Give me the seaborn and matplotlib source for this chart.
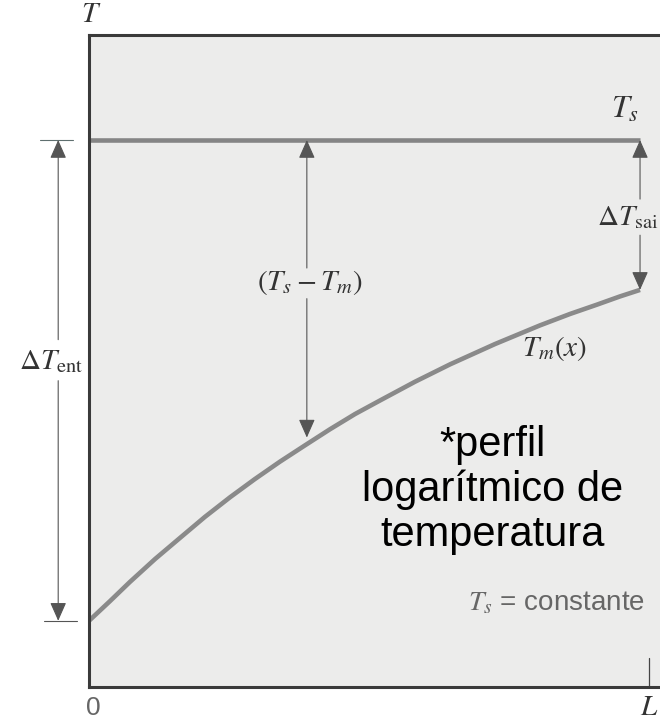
import matplotlib
matplotlib.use("Agg")
import matplotlib.pyplot as plt
import seaborn as sns
import pandas as pd

# Mean fluid temperature along the tube, x as a fraction of the length L
x_frac = [0.0, 0.0375, 0.073, 0.118, 0.163, 0.207, 0.252, 0.296, 0.341, 0.386,
          0.430, 0.475, 0.520, 0.582, 0.645, 0.725, 0.805, 0.859, 0.907, 0.948,
          0.984]
T_mean = [12.1, 15.7, 19.2, 23.4, 27.3, 31.1, 34.7, 38.0, 41.2, 44.2,
          47.1, 49.9, 52.4, 55.8, 59.0, 62.7, 66.1, 68.2, 69.9, 71.4,
          72.6]
# Constant surface temperature
T_surface = 100.0
# Local difference (T_s - T_m) marked inside the tube
x_local = 0.389
T_local = 45.6

sns.set_theme(style="white")
plt.rcParams["mathtext.fontset"] = "stix"
plt.rcParams["font.family"] = ["Liberation Sans", "DejaVu Sans"]

profile = pd.DataFrame({"x": x_frac, "T": T_mean})
surface = pd.DataFrame({"x": [x_frac[0], x_frac[-1]], "T": [T_surface, T_surface]})

fig = plt.figure(figsize=(6.6, 7.21), dpi=100)
fig.patch.set_facecolor("white")
ax = fig.add_axes([89 / 660, 34 / 721, 1.1 * 560 / 660, 652 / 721])
ax.set_facecolor("#ececeb")
ax.set_xlim(0, 1.1)
ax.set_ylim(0, 119.2)

sns.lineplot(data=surface, x="x", y="T", ax=ax, color="#858585", lw=3.3,
             solid_capstyle="butt")
sns.lineplot(data=profile, x="x", y="T", ax=ax, color="#8a8a8a", lw=3.3,
             solid_capstyle="butt", solid_joinstyle="round")

ax.set_xticks([])
ax.set_yticks([])
ax.set_xlabel("")
ax.set_ylabel("")
for side in ["left", "bottom", "top"]:
    ax.spines[side].set_color("#3a3a3a")
    ax.spines[side].set_linewidth(2.2)
ax.spines["right"].set_visible(False)

ink = "#333333"
arrow_kw = dict(arrowstyle="-|>,head_width=0.42,head_length=0.95", lw=0.8,
                color="#555555", shrinkA=0, shrinkB=0)


def arrow(x, y0, y1):
    ax.annotate("", xy=(x, y1), xytext=(x, y0), arrowprops=arrow_kw,
                annotation_clip=False)


T_in = T_mean[0]
T_out = T_mean[-1]
x_end = x_frac[-1]

# Inlet difference, drawn left of the axis
x_in = -0.055
arrow(x_in, 63.5, T_surface)
arrow(x_in, 56.0, T_in)
ax.plot([-0.0875, -0.0286], [T_surface, T_surface], color="#5f6f6f", lw=0.8,
        clip_on=False)
ax.plot([-0.08, -0.021], [T_in, T_in], color="#555555", lw=0.8, clip_on=False)
ax.text(-0.068, 59.6, r"$\Delta T_{\mathrm{ent}}$", fontsize=21, color=ink,
        ha="center", va="center")

# Local difference
arrow(x_local, 76.6, T_surface)
arrow(x_local, 71.0, T_local)
ax.text(0.395, 73.9, r"$(T_s - T_m)$", fontsize=21, color=ink,
        ha="center", va="center")

# Outlet difference
arrow(x_end, 89.2, T_surface)
arrow(x_end, 82.6, T_out)
ax.text(0.962, 85.9, r"$\Delta T_{\mathrm{sai}}$", fontsize=21, color=ink,
        ha="center", va="center")

ax.text(0.958, 105.5, r"$T_s$", fontsize=23, color=ink, ha="center", va="center")
ax.text(0.832, 61.8, r"$T_m(x)$", fontsize=21, color=ink, ha="center", va="center")

ax.text(0.721, 36.0, "*perfil\nlogarítmico de\ntemperatura", fontsize=30,
        color="black", ha="center", va="center", linespacing=1.15,
        family=["Liberation Sans", "DejaVu Sans"])

ax.text(0.834, 15.4, r"$T_s$ = constante", fontsize=20, color="#666666",
        ha="center", va="center", family=["Liberation Sans", "DejaVu Sans"])

# Axis marks
ax.text(0.004, 123.0, r"$T$", fontsize=21, color=ink, ha="center", va="center",
        clip_on=False)
ax.text(0.007, -5.2, "0", fontsize=19, color="#666666", ha="center",
        va="baseline", clip_on=False)
ax.text(1.0, -5.2, r"$L$", fontsize=21, color=ink, ha="center", va="baseline",
        clip_on=False)
ax.plot([1.0, 1.0], [0, 5.3], color="#444444", lw=0.9)

fig.savefig("out.png", dpi=100)
